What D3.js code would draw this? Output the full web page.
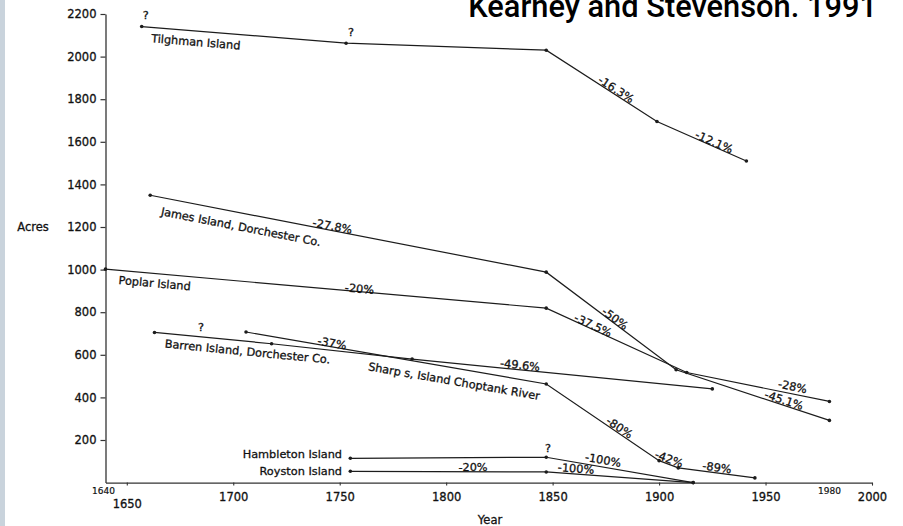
<!DOCTYPE html>
<html>
<head>
<meta charset="utf-8">
<script src="https://cdn.jsdelivr.net/npm/d3@7/dist/d3.min.js"></script>
<style>
  html, body { margin: 0; padding: 0; background: #fff; overflow: hidden; }
  svg { display: block; }
</style>
</head>
<body>
<svg id="chart" width="903" height="526"></svg>
<script>
// Acreage of Chesapeake Bay islands through time
const tilghmanYears  = [1657, 1753, 1847, 1899, 1941];
const tilghmanAcres  = [2141, 2063, 2030, 1695, 1510];
const jamesYears     = [1661, 1847, 1908, 1980];
const jamesAcres     = [1349, 988, 530, 292];
const poplarYears    = [1640, 1847, 1913, 1980];
const poplarAcres    = [1002, 819, 517, 381];
const barrenYears    = [1663, 1718, 1784, 1925];
const barrenAcres    = [705, 652, 580, 440];
const sharpsYears    = [1706, 1847, 1900, 1909, 1945];
const sharpsAcres    = [707, 463, 103, 69, 22];
const hambletonYears = [1755, 1847, 1916];
const hambletonAcres = [114, 119, 0];
const roystonYears   = [1755, 1847, 1916];
const roystonAcres   = [53, 50, 0];

const yTickValues = [200, 400, 600, 800, 1000, 1200, 1400, 1600, 1800, 2000, 2200];
const xTickValues = [1650, 1700, 1750, 1800, 1850, 1900, 1950, 2000];
const xMinorLabels = [1640, 1980];

// name labels and percent-change labels, anchored at [year, acres];
// "seg" gives the series segment whose slope the label follows
const labels = [
  { text: "Tilghman Island", year: 1682.4, acres: 2069, series: 0, seg: 0 },
  { text: "?", year: 1658.9, acres: 2196 },
  { text: "?", year: 1755.3, acres: 2113 },
  { text: "-16.3%", year: 1879.8, acres: 1846, series: 0, seg: 2 },
  { text: "-12.1%", year: 1925.8, acres: 1599, series: 0, seg: 3 },
  { text: "James Island, Dorchester Co.", year: 1703.6, acres: 1201, series: 1, seg: 0 },
  { text: "-27.8%", year: 1746.6, acres: 1204, series: 1, seg: 0 },
  { text: "Poplar Island", year: 1663.1, acres: 936, series: 2, seg: 0 },
  { text: "-20%", year: 1759.3, acres: 910, series: 2, seg: 0 },
  { text: "-50%", year: 1879.3, acres: 770, series: 1, seg: 1 },
  { text: "-37.5%", year: 1869.0, acres: 739, series: 2, seg: 1 },
  { text: "-28%", year: 1962.7, acres: 451, series: 2, seg: 2 },
  { text: "-45.1%", year: 1958.7, acres: 387, series: 1, seg: 2 },
  { text: "Barren Island, Dorchester Co.", year: 1706.7, acres: 615, series: 3, seg: 0 },
  { text: "?", year: 1684.9, acres: 730 },
  { text: "-37%", year: 1746.4, acres: 655, series: 4, seg: 0 },
  { text: "Sharp s, Island Choptank River", year: 1803.7, acres: 476, series: 4, seg: 0 },
  { text: "-49.6%", year: 1834.7, acres: 552, series: 3, seg: 2 },
  { text: "-80%", year: 1881.4, acres: 258, series: 4, seg: 1 },
  { text: "-42%", year: 1904.7, acres: 111, series: 4, seg: 2 },
  { text: "-89%", year: 1927.2, acres: 71, series: 4, seg: 3 },
  { text: "Hambleton Island", year: 1751.1, acres: 134, anchor: "end" },
  { text: "Royston Island", year: 1751.1, acres: 54, anchor: "end" },
  { text: "?", year: 1847.8, acres: 161 },
  { text: "-20%", year: 1812.6, acres: 73 },
  { text: "-100%", year: 1861.0, acres: 66, series: 6, seg: 1 },
  { text: "-100%", year: 1873.7, acres: 106, series: 5, seg: 1 }
];

const series = [
  [tilghmanYears, tilghmanAcres],
  [jamesYears, jamesAcres],
  [poplarYears, poplarAcres],
  [barrenYears, barrenAcres],
  [sharpsYears, sharpsAcres],
  [hambletonYears, hambletonAcres],
  [roystonYears, roystonAcres]
].map(([ys, as]) => ys.map((yr, i) => ({ year: yr, acres: as[i] })));

const svg = d3.select("#chart");
const ink = "#1c1c1c";
const font = "'DejaVu Sans', sans-serif";

// typewritten-looking text: slightly heavier than the plain face
function inked(sel, size) {
  return sel.attr("font-family", font).attr("font-size", size)
    .attr("fill", "#111").attr("stroke", "#111").attr("stroke-width", 0.3);
}

const x = d3.scaleLinear().domain([1640, 2000]).range([105.5, 872]);
const y = d3.scaleLinear().domain([0, 2200]).range([482.6, 14]);

// page edge strip
svg.append("rect").attr("x", 0).attr("y", 0).attr("width", 5).attr("height", 526)
  .attr("fill", "#c9d3dc");

// y axis
const yAxis = svg.append("g")
  .attr("transform", `translate(${x(1640)},0)`)
  .call(d3.axisLeft(y).tickValues(yTickValues).tickSize(5).tickSizeOuter(0).tickPadding(4)
    .tickFormat(d3.format("d")));
yAxis.select(".domain").attr("stroke", "#333").attr("stroke-width", 1.3);
yAxis.selectAll(".tick line").attr("stroke", "#333").attr("stroke-width", 1.2);
inked(yAxis.selectAll(".tick text"), 11.5);

// x axis
const xAxis = svg.append("g")
  .attr("transform", `translate(0,${y(0)})`)
  .call(d3.axisBottom(x).tickValues(xTickValues).tickSize(3).tickSizeOuter(0)
    .tickFormat(d3.format("d")));
xAxis.select(".domain").attr("stroke", "#333").attr("stroke-width", 1.3);
xAxis.selectAll(".tick line").attr("stroke", "#333").attr("stroke-width", 1.1);
inked(xAxis.selectAll(".tick text"), 11.5)
  .attr("y", d => d === 1650 ? 21 : 14).attr("dy", "0.35em");
inked(xAxis.selectAll(".minor").data(xMinorLabels).enter().append("text")
  .attr("class", "minor")
  .attr("x", d => x(d) - (d === 1640 ? 2 : 0)).attr("y", 8).attr("dy", "0.35em")
  .attr("text-anchor", "middle"), 9)
  .attr("stroke-width", 0.2).text(d => d);

// axis titles
inked(svg.append("text").attr("x", 33).attr("y", 227).attr("dy", "0.35em")
  .attr("text-anchor", "middle"), 11.5).text("Acres");
inked(svg.append("text").attr("x", 490).attr("y", 520).attr("dy", "0.35em")
  .attr("text-anchor", "middle"), 11.5).text("Year");

// island lines
const line = d3.line().x(d => x(d.year)).y(d => y(d.acres));
svg.append("g").selectAll("path").data(series).enter().append("path")
  .attr("d", line).attr("fill", "none").attr("stroke", ink).attr("stroke-width", 1.2);
svg.append("g").selectAll("circle").data(series.flat()).enter().append("circle")
  .attr("cx", d => x(d.year)).attr("cy", d => y(d.acres)).attr("r", 1.8)
  .attr("fill", ink);

// labels
function segAngle(l) {
  if (l.series === undefined) return 0;
  const a = series[l.series][l.seg], b = series[l.series][l.seg + 1];
  return Math.atan2(y(b.acres) - y(a.acres), x(b.year) - x(a.year)) * 180 / Math.PI;
}
inked(svg.append("g").selectAll("text").data(labels).enter().append("text")
  .attr("transform", d => `translate(${x(d.year)},${y(d.acres)}) rotate(${segAngle(d)})`)
  .attr("dy", "0.35em")
  .attr("text-anchor", d => d.anchor || "middle"), 11.3)
  .text(d => d.text);

// source note
const title = svg.append("text")
  .attr("x", 877).attr("y", 17).attr("text-anchor", "end")
  .attr("font-family", "Roboto, 'Liberation Sans', sans-serif")
  .attr("font-weight", 500).attr("font-size", 28).attr("fill", "#000")
  .text("Kearney and Stevenson. 1991");
const w = title.node().getComputedTextLength();
title.attr("font-size", 28 * 409 / w);
</script>
</body>
</html>
